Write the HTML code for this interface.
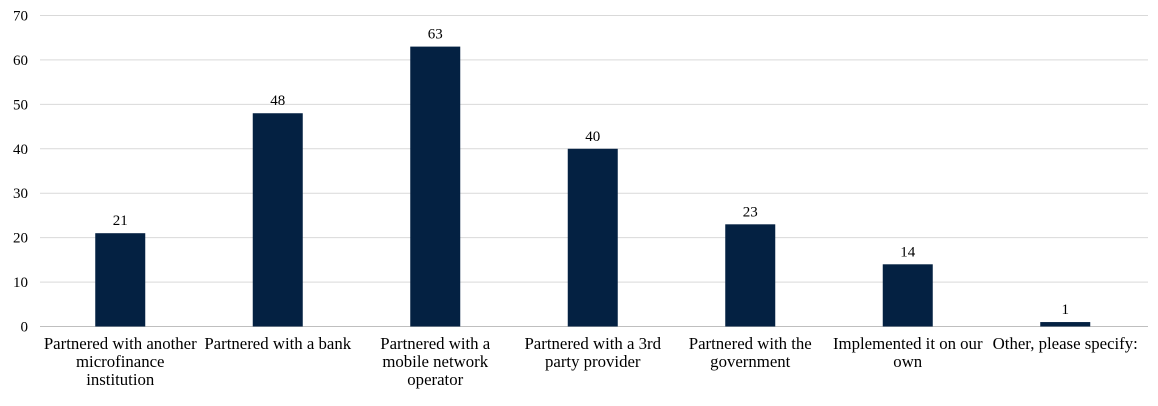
<!DOCTYPE html>
<html><head><meta charset="utf-8"><style>
html,body{margin:0;padding:0;background:#fff;}
svg text{font-family:"Liberation Serif",serif;font-size:15px;fill:#000;}
svg text.cat{font-size:16.8px;}
</style></head><body>
<svg id="chart" width="1158" height="401"></svg>
<script>
const categories=[["Partnered with another","microfinance","institution"],["Partnered with a bank"],["Partnered with a","mobile network","operator"],["Partnered with a 3rd","party provider"],["Partnered with the","government"],["Implemented it on our","own"],["Other, please specify:"]];
const values=[21,48,63,40,23,14,1];
const ticks=[0,10,20,30,40,50,60,70];
const NS="http://www.w3.org/2000/svg";
const svg=document.getElementById('chart');
const L=41.5,R=1144,GR=1148,T=15.5,B=326.5,maxV=70;
const y=v=>B-(v/maxV)*(B-T);
const bw=(R-L)/values.length;
const x=i=>L+bw*(i+0.5);
function mk(t,a){const e=document.createElementNS(NS,t);for(const k in a)e.setAttribute(k,a[k]);svg.appendChild(e);return e;}
ticks.forEach(t=>{
 const g=mk('line',{x1:40,x2:GR,y1:y(t),y2:y(t),stroke:t===0?'#bfbfbf':'#d9d9d9','stroke-width':1});
 
 
 const lb=mk('text',{x:28,y:y(t)+5,'text-anchor':'end'});lb.textContent=t;
 
 
});
values.forEach((v,i)=>{
 const r=mk('rect',{x:x(i)-25,y:y(v),width:50,height:B-y(v),fill:'#042142'});
 
 
 const t=mk('text',{x:x(i),y:y(v)-8,'text-anchor':'middle'});t.textContent=v;
 
 
 categories[i].forEach((ln,j)=>{
  const c=mk('text',{x:x(i),y:349+j*18,'text-anchor':'middle','class':'cat'});c.textContent=ln;
  
  
 });
});
</script>
</body></html>
